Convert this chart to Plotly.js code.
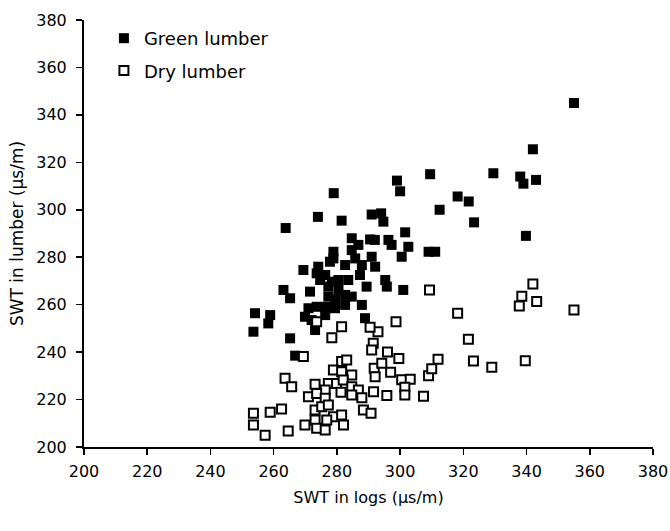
<!DOCTYPE html>
<html><head><meta charset="utf-8">
<script src="https://cdn.plot.ly/plotly-3.0.1.min.js"></script>
<style>body{margin:0;background:#fff}#c{width:670px;height:531px}</style>
</head><body><div id="c"></div>
<script>
const greenX = [355,342,343,338,339,329.5,318.2,321.7,323.4,339.8,309.5,312.5,299,300,279,274,281.5,263.8,291,294,294.7,301.6,296.3,292,284.7,286.8,290.5,297.3,302.6,300.5,309,311.1,278.9,278.9,284.7,285.8,291,292.1,287.9,282.6,277.8,274.1,269.4,273.6,276.3,274.7,278.4,280.5,283.6,287.3,295.3,295.8,289.4,301,277.3,280.5,282.6,284.7,279.4,277.3,287.9,263.1,265.2,271.5,271,273.6,276.3,279.4,282.6,269.9,272,276.3,288.9,254.1,258.9,258.3,253.6,265.2,273.1,266.8];
const greenY = [345,325.5,312.6,314,311,315.4,305.6,303.5,294.7,289,315,300,312.3,307.8,307,297,295.4,292.3,298,298.5,295,290.5,287.3,287.3,288,285.2,287.5,285.2,284.4,280.2,282.3,282.3,282.3,279.5,283,279.5,280.2,276,276.7,276.7,278.1,276,274.6,273.2,272.5,270.4,269.7,270.4,270.4,272.5,270.4,267.6,267.6,266.2,267.6,266.2,264.1,263.4,262,263.4,259.9,266.2,262.7,265.5,258.5,259.1,259.1,258.5,259.9,254.9,253.5,255.6,254.3,256.4,255.6,252.1,248.6,245.8,249.3,238.5];
const dryX = [355,342,338.5,343.2,337.7,318.2,309.3,293,290.5,291.5,291,296,299.6,291.8,294.2,292.1,297,300.5,303.2,301.5,301.5,295.8,291.6,307.4,309,310,312,288.4,290.8,298.7,321.6,323.2,329,339.6,281.5,278.4,273.6,269.4,281.5,283.1,278.9,281.5,284.7,277.3,279.9,282,284.7,286.8,281.3,284.7,287.9,273.1,276.3,271,273.6,276.3,273.1,275.2,277.3,278.9,281.5,276.8,273.1,269.9,273.6,276.3,282.1,263.6,265.7,253.6,253.6,258.9,262.5,257.3,264.6];
const dryY = [257.8,268.7,263.5,261.3,259.4,256.4,266.2,248.6,250.5,243.7,240.9,240,237.3,233.2,235.3,229.6,231.5,228.3,228.6,225.2,221.9,221.7,223.3,221.4,230,233,237,215.6,214.2,252.8,245.4,236.3,233.6,236.4,250.7,246.1,252.8,238.1,236,236.7,232.5,231.7,230.4,226.8,226.8,228.2,225.4,224,223.1,221.9,220.8,226.4,224,221.2,222.6,220.5,215.6,217,217.7,212.8,213.5,211.4,211.4,209.3,207.9,207.2,209.3,229,225.4,214.2,209.3,214.6,216,205,206.7];
const tickVals = [200,220,240,260,280,300,320,340,360,380];

const fam = 'DejaVu Sans, sans-serif';
const f = (s) => ({family: fam, size: s, color: '#000'});
const data = [
  {x: greenX, y: greenY, type: 'scatter', mode: 'markers', name: 'Green lumber', legendgroup: 'g',
   marker: {symbol: 'square', size: 10, color: '#000', line: {width: 0}}},
  {x: dryX, y: dryY, type: 'scatter', mode: 'markers', name: 'Dry lumber', legendgroup: 'd',
   marker: {symbol: 'square', size: 9, color: '#fff', line: {width: 2, color: '#000'}}}
];
const axis = {
  range: [200, 380], tickvals: tickVals, ticks: 'outside', ticklen: 6, tickwidth: 1.5, tickcolor: '#000',
  showline: true, linecolor: '#000', linewidth: 2, showgrid: false, zeroline: false,
  tickfont: f(16)
};
const layout = {
  width: 670, height: 531,
  margin: {l: 84, r: 17, t: 20, b: 84},
  paper_bgcolor: '#fff', plot_bgcolor: '#fff',
  showlegend: true,
  legend: {x: 0.035, y: 1.0, xanchor: 'left', yanchor: 'top', bgcolor: 'rgba(0,0,0,0)',
           font: f(18), tracegroupgap: 6, itemwidth: 30},
  xaxis: Object.assign({}, axis, {ticklabelstandoff: 3, title: {text: 'SWT in logs (μs/m)', font: f(16), standoff: 12}}),
  yaxis: Object.assign({}, axis, {ticklabelstandoff: 6, title: {text: 'SWT in lumber (μs/m)', font: f(17), standoff: 8}})
};
Plotly.newPlot('c', data, layout, {displayModeBar: false, staticPlot: true});
</script>
</body></html>
